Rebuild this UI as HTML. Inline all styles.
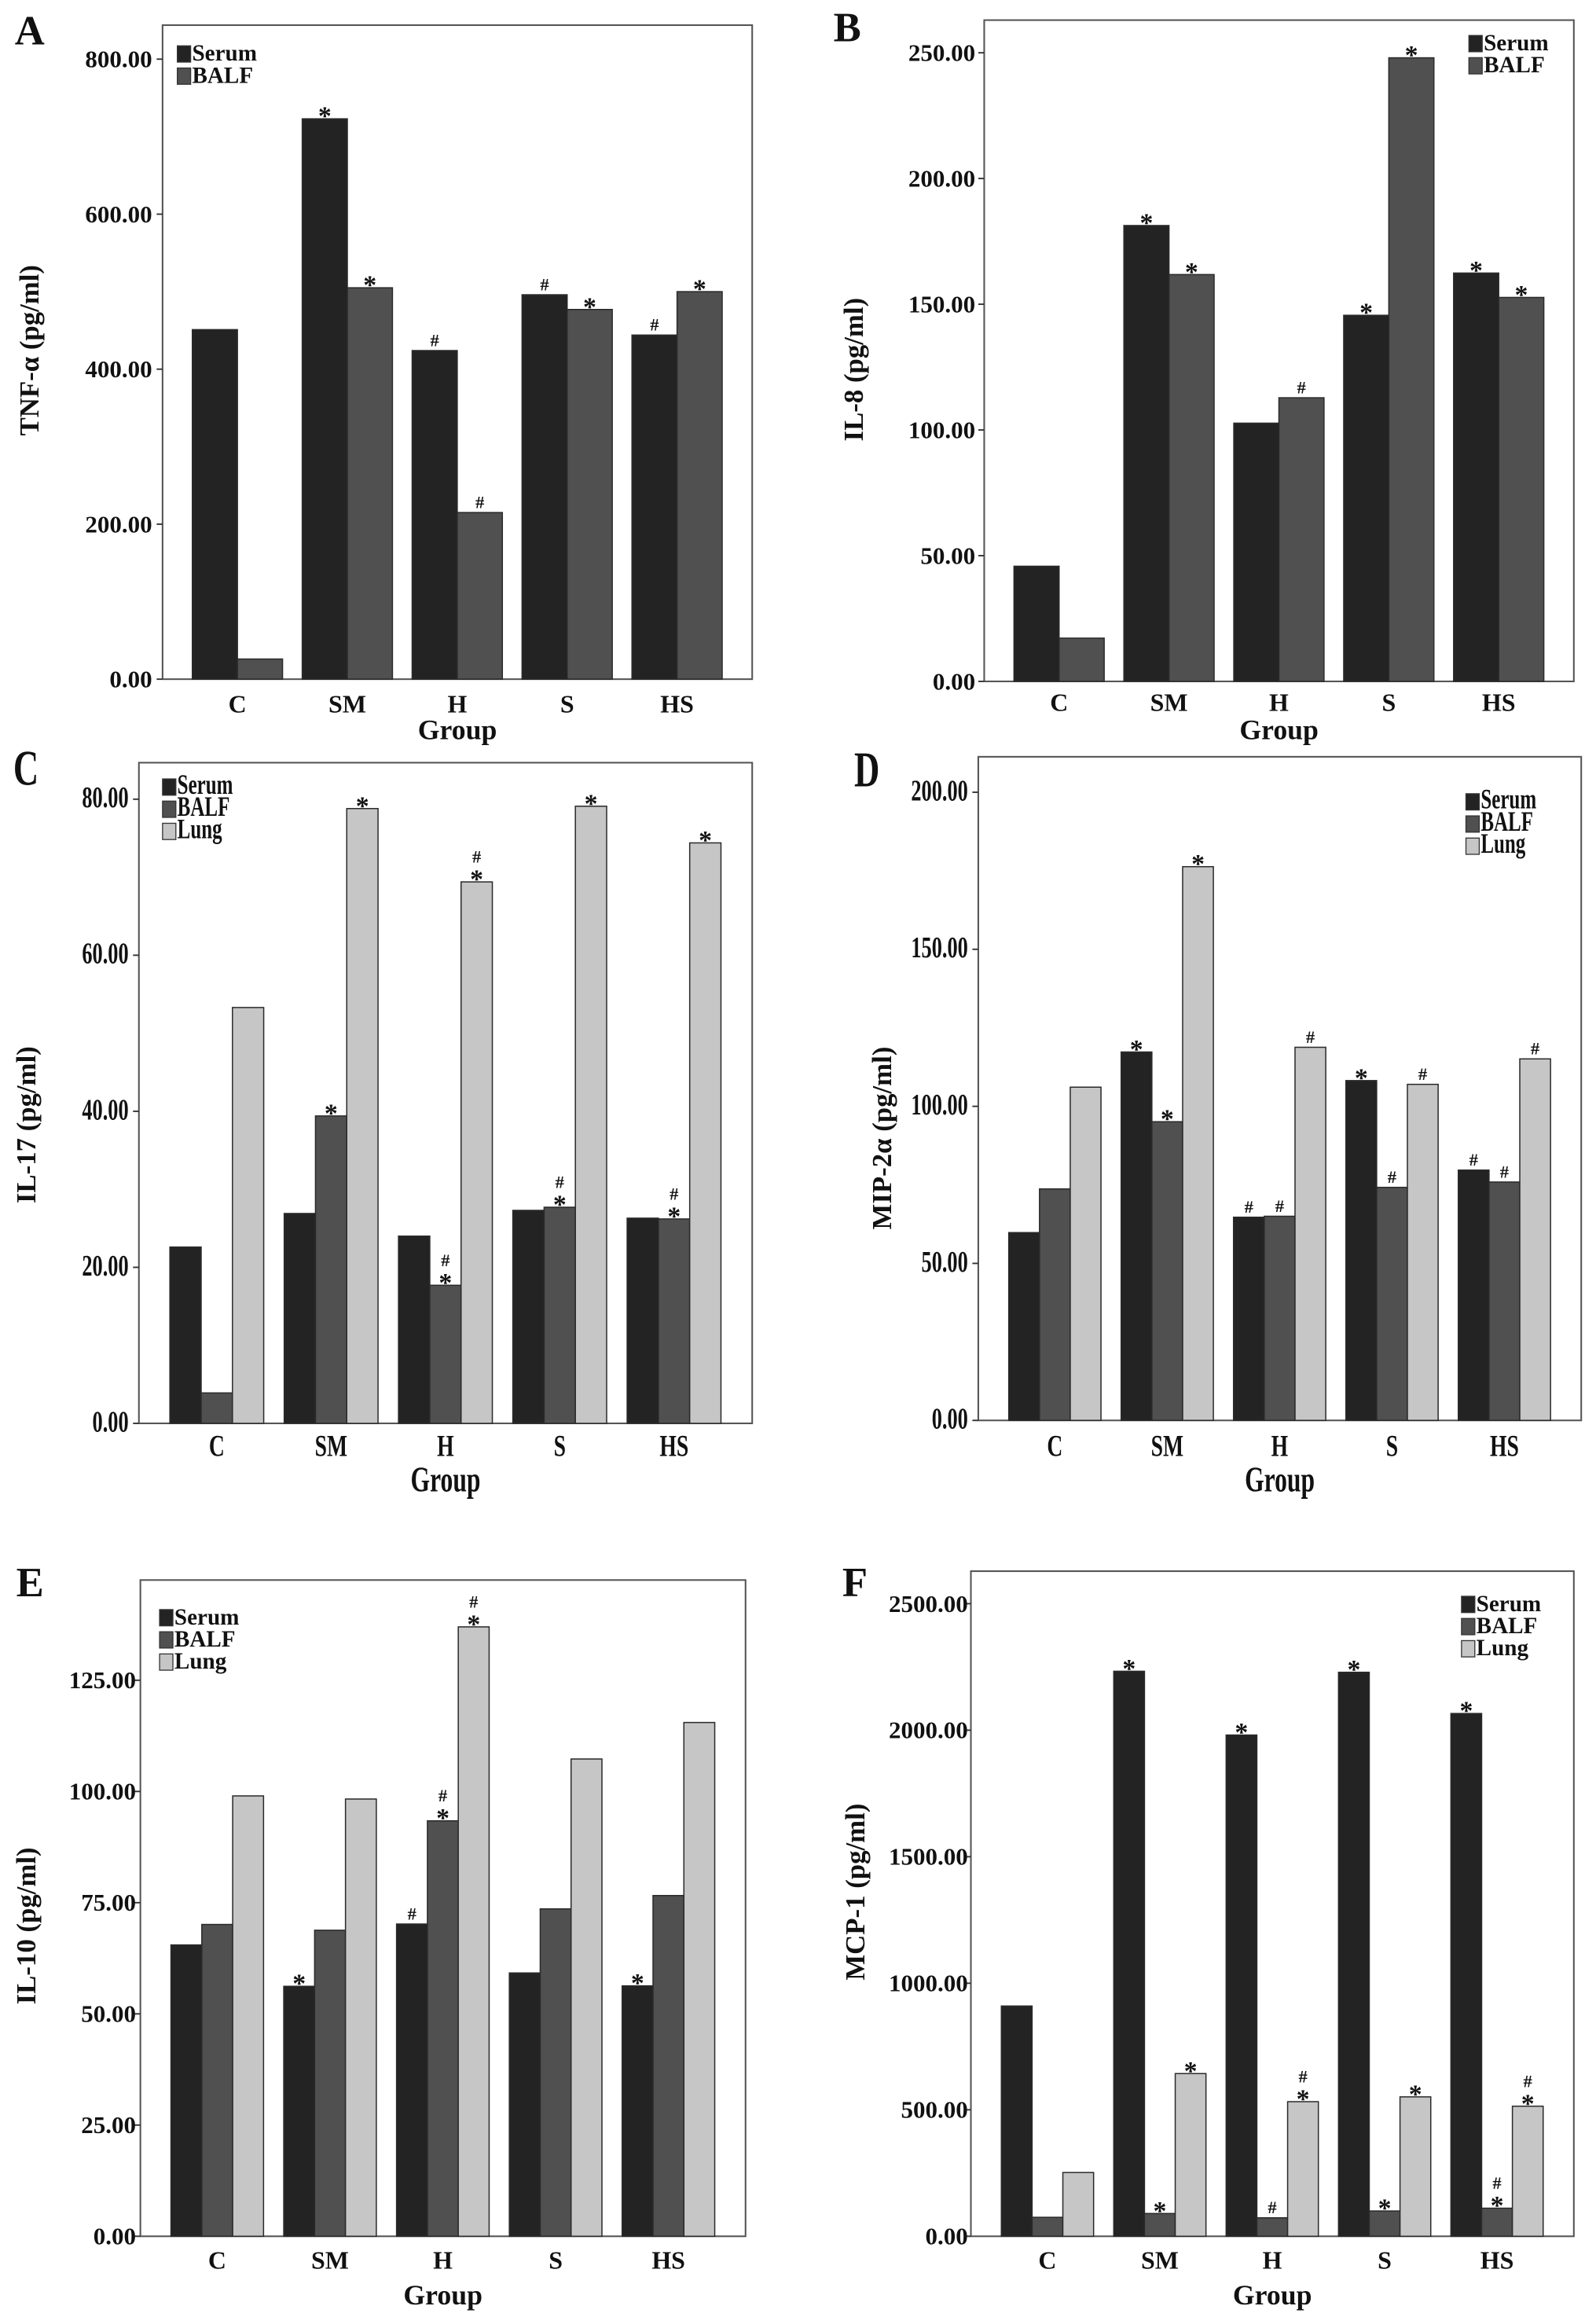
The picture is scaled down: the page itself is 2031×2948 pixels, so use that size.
<!DOCTYPE html>
<html><head><meta charset="utf-8">
<style>
html,body{margin:0;padding:0;background:#fff;}
svg{display:block;}
text{font-family:"Liberation Serif",serif;font-weight:bold;fill:#111;}
</style></head>
<body>
<svg id="fig" xmlns="http://www.w3.org/2000/svg" width="2031" height="2948" viewBox="0 0 1080 1567.6"></svg>
<script>
// ---- data ----
const groups = ["C","SM","H","S","HS"];
const aTicks = [0,200,400,600,800];
const aSerum = [451,723,424,496,444];
const aBalf = [26,505,215,477,500];
const aSerumMk = ["","*","#","#","#"];
const aBalfMk = ["","*","#","*","*"];

const bTicks = [0,50,100,150,200,250];
const bSerum = [45.8,181.3,102.7,145.6,162.4];
const bBalf = [17.2,161.8,112.8,248,152.7];
const bSerumMk = ["","*","","*","*"];
const bBalfMk = ["","*","#","*","*"];

const cTicks = [0,20,40,60,80];
const cSerum = [22.6,26.9,24.0,27.3,26.3];
const cBalf = [3.9,39.4,17.7,27.7,26.2];
const cLung = [53.3,78.8,69.4,79.1,74.4];
const cSerumMk = ["","","","",""];
const cBalfMk = ["","*","#*","#*","#*"];
const cLungMk = ["","*","#*","*","*"];

const dTicks = [0,50,100,150,200];
const dSerum = [59.8,117.3,64.7,108.2,79.7];
const dBalf = [73.7,95.1,65.0,74.2,75.9];
const dLung = [106.1,176.3,118.8,107.0,115.1];
const dSerumMk = ["","*","#","*","#"];
const dBalfMk = ["","*","#","#","#"];
const dLungMk = ["","*","#","#","#"];

const eTicks = [0,25,50,75,100,125];
const eSerum = [65.5,56.2,70.2,59.2,56.3];
const eBalf = [70.1,68.8,93.4,73.6,76.6];
const eLung = [99.0,98.3,137.0,107.3,115.5];
const eSerumMk = ["","*","#","","*"];
const eBalfMk = ["","","#*","",""];
const eLungMk = ["","","#*","",""];

const fTicks = [0,500,1000,1500,2000,2500];
const fSerum = [910,2233,1981,2229,2066];
const fBalf = [75,90,73,100,111];
const fLung = [252,643,532,551,514];
const fSerumMk = ["","*","*","*","*"];
const fBalfMk = ["","*","#","*","#*"];
const fLungMk = ["","*","#*","*","#*"];

// ---- drawing ----
const NS = "http://www.w3.org/2000/svg";
const svg = document.getElementById("fig");
const COLORS = ["#232323","#505050","#c6c6c6"];
const NAMES = ["Serum","BALF","Lung"];

function mk(tag, attrs, parent){
  const e = document.createElementNS(NS, tag);
  for (const k in attrs) e.setAttribute(k, attrs[k]);
  (parent||svg).appendChild(e);
  return e;
}
function txt(parent, x, y, s, size, anchor, cond, rot){
  const g = mk("g", {transform:"translate("+x+","+y+")"+(rot?" rotate(-90)":"")+(cond?" scale(0.7,1)":"")}, parent);
  const t = mk("text", {x:0, y:0, "font-size":size, "text-anchor":anchor||"start"}, g);
  t.textContent = s;
  return t;
}

function panel(p){
  const g = mk("g", {});
  
  
  const W = p.x1 - p.x0;
  const yMax = p.ticks[p.ticks.length-1];
  const ys = v => p.y1 - (v / yMax) * (p.y1 - p.yTop);
  const gw = 0.153 * W, nS = p.series.length, bw = gw / nS;
  const cx = i => p.x0 + (0.127 + 0.1864 * i) * W;

  const fr = mk("rect", {x:p.x0, y:p.y0, width:W, height:p.y1-p.y0, fill:"none", stroke:"#555", "stroke-width":1.1}, g);
  
  

  p.ticks.forEach(v => {
    const y = ys(v);
    const tk = mk("line", {x1:p.x0-4, x2:p.x0, y1:y, y2:y, stroke:"#333", "stroke-width":1}, g);
    
    
    const lb = txt(g, p.labR, y+5.5, v.toFixed(2), p.cond?20:16.5, "end", p.cond);
    
    
  });

  p.series.forEach((vals, s) => {
    vals.forEach((v, i) => {
      const x = cx(i) - gw/2 + s*bw;
      const y = ys(v);
      const r = mk("rect", {x:x, y:y, width:bw, height:p.y1-y, fill:COLORS[s], stroke:"#2a2a2a", "stroke-width":0.8}, g);
      
      
      const m = p.marks[s][i];
      if (m) {
        const chars = m.split("");
        let yy = y;
        for (let k = chars.length-1; k >= 0; k--) {
          const ch = chars[k];
          const t = txt(g, x + bw/2, ch === "*" ? yy + 4 : yy - 3, ch, ch === "*" ? 18 : 12, "middle", false);
          
          
          yy -= (ch === "*" ? 10 : 12);
        }
      }
    });
  });

  groups.forEach((gname, i) => {
    const t = txt(g, cx(i), p.xlabY, gname, p.cond?21:17, "middle", p.cond);
    
    
  });
  const gt = txt(g, (p.x0+p.x1)/2, p.groupY, "Group", p.cond?24:19, "middle", p.cond);
  
  

  const yt = txt(g, p.ytX, p.ytY, p.ytitle, 18.5, "middle", false, true);
  
  

  const pl = txt(g, p.letX, p.letY, p.letter, p.cond?34:28, "start", p.cond);
  
  

  p.series.forEach((vals, s) => {
    const ly = p.legY + s*15;
    const sq = mk("rect", {x:p.legX, y:ly-10, width:9, height:11, fill:COLORS[s], stroke:"#333", "stroke-width":0.7}, g);
    
    
    const lt = txt(g, p.legX+10, ly, NAMES[s], p.cond?19:15.5, "start", p.cond);
    
    
  });
}

panel({letter:"A", x0:110, x1:509, y0:17, y1:459.5, yTop:40, ticks:aTicks,
  series:[aSerum,aBalf], marks:[aSerumMk,aBalfMk], labR:103, xlabY:482, groupY:500,
  ytitle:"TNF-α (pg/ml)", ytX:26, ytY:237, letX:10, letY:30, legX:120, legY:41, cond:false});
panel({letter:"B", x0:666, x1:1065, y0:13.6, y1:461, yTop:35.7, ticks:bTicks,
  series:[bSerum,bBalf], marks:[bSerumMk,bBalfMk], labR:660, xlabY:481, groupY:500,
  ytitle:"IL-8 (pg/ml)", ytX:584, ytY:250, letX:564, letY:28, legX:994, legY:34, cond:false});
panel({letter:"C", x0:94, x1:509, y0:516, y1:963, yTop:540.7, ticks:cTicks,
  series:[cSerum,cBalf,cLung], marks:[cSerumMk,cBalfMk,cLungMk], labR:87, xlabY:985, groupY:1009,
  ytitle:"IL-17 (pg/ml)", ytX:24, ytY:761, letX:9, letY:531, legX:110, legY:537, cond:true});
panel({letter:"D", x0:662, x1:1070, y0:512, y1:961, yTop:536, ticks:dTicks,
  series:[dSerum,dBalf,dLung], marks:[dSerumMk,dBalfMk,dLungMk], labR:655, xlabY:985, groupY:1009,
  ytitle:"MIP-2α (pg/ml)", ytX:603, ytY:770, letX:578, letY:532, legX:992, legY:547, cond:true});
panel({letter:"E", x0:95, x1:504.5, y0:1069, y1:1513, yTop:1136.8, ticks:eTicks,
  series:[eSerum,eBalf,eLung], marks:[eSerumMk,eBalfMk,eLungMk], labR:92, xlabY:1535, groupY:1559,
  ytitle:"IL-10 (pg/ml)", ytX:24, ytY:1303, letX:11, letY:1080, legX:108, legY:1099, cond:false});
panel({letter:"F", x0:657, x1:1065, y0:1063, y1:1513, yTop:1085, ticks:fTicks,
  series:[fSerum,fBalf,fLung], marks:[fSerumMk,fBalfMk,fLungMk], labR:655, xlabY:1535, groupY:1559,
  ytitle:"MCP-1 (pg/ml)", ytX:585, ytY:1280, letX:570, letY:1080, legX:989, legY:1090, cond:false});
</script>
</body></html>
